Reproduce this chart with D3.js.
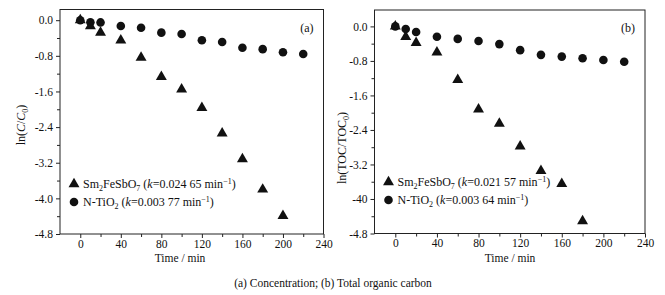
<!DOCTYPE html>
<html lang="en">
<head>
    <meta charset="UTF-8" />
    <title>ln(C/C0) and ln(TOC/TOC0) vs time</title>
    <script src="https://d3js.org/d3.v7.min.js"></script>
    <style>
        body {
            margin: 0;
            background: #fff;
        }
        svg text {
            fill: #111;
            font-weight: normal;
            font-family: 'Liberation Serif', 'DejaVu Serif', serif;
        }
        .axis path, .axis line {
            stroke: #222;
        }
    </style>
</head>
<body>
    <script>
        // time axis (min)
        const timesTri = [0, 10, 20, 40, 60, 80, 100, 120, 140, 160, 180, 200];
        const timesCirc = [0, 10, 20, 40, 60, 80, 100, 120, 140, 160, 180, 200, 220];
        const timesTriB = [0, 10, 20, 40, 60, 80, 100, 120, 140, 160, 180];

        // panel (a): ln(C/C0)
        const smFeSbO7_a = [0, -0.13, -0.28, -0.45, -0.84, -1.27, -1.55, -1.97, -2.54, -3.12, -3.80, -4.39];
        const nTiO2_a = [0, -0.045, -0.05, -0.13, -0.17, -0.28, -0.31, -0.45, -0.49, -0.62, -0.65, -0.72, -0.76];

        // panel (b): ln(TOC/TOC0)
        const smFeSbO7_b = [0, -0.24, -0.38, -0.60, -1.24, -1.92, -2.25, -2.78, -3.35, -3.65, -4.51];
        const nTiO2_b = [0, -0.06, -0.13, -0.24, -0.29, -0.34, -0.41, -0.55, -0.66, -0.70, -0.74, -0.78, -0.82];

        const xTicks = [0, 40, 80, 120, 160, 200, 240];
        const yTicks = [0, -0.8, -1.6, -2.4, -3.2, -4.0, -4.8];
        const yTickLabelsA = ['0.0', '-0.8', '-1.6', '-2.4', '-3.2', '-4.0', '-4.8'];
        const yTickLabelsB = ['0.0', '-0.8', '-1.6', '-2.4', '-3.2', '-40', '-4.8'];

        const kA = ['0.024 65', '0.003 77'];
        const kB = ['0.021 57', '0.003 64'];

        const width = 665, height = 295;
        const svg = d3.select('body').append('svg').attr('width', width).attr('height', height);

        function drawPanel(cfg) {
            const x = d3.scaleLinear().domain([-20, 240]).range([cfg.left, cfg.right]);
            const y = d3.scaleLinear().domain([-4.8, cfg.yTop]).range([cfg.bottom, cfg.top]);
            const g = svg.append('g');

            // frame
            g.append('rect')
                .attr('x', cfg.left).attr('y', cfg.top)
                .attr('width', cfg.right - cfg.left).attr('height', cfg.bottom - cfg.top)
                .attr('fill', 'none').attr('stroke', '#222').attr('stroke-width', 1);

            // x axis: major + minor ticks
            const xAxis = g.append('g').attr('class', 'axis')
                .attr('transform', `translate(0,${cfg.bottom})`)
                .call(d3.axisBottom(x).tickValues(xTicks).tickSize(4).tickPadding(1.5).tickFormat(d3.format('d')));
            xAxis.select('.domain').remove();
            xAxis.selectAll('text').attr('font-size', 11.5);
            g.append('g').attr('class', 'axis')
                .attr('transform', `translate(0,${cfg.bottom})`)
                .call(d3.axisBottom(x).tickValues([20, 60, 100, 140, 180, 220]).tickSize(3).tickFormat(''))
                .select('.domain').remove();

            // y axis
            const yAxis = g.append('g').attr('class', 'axis')
                .attr('transform', `translate(${cfg.left},0)`)
                .call(d3.axisLeft(y).tickValues(yTicks).tickSize(4).tickPadding(3)
                    .tickFormat((d, i) => cfg.yLabels[i]));
            yAxis.select('.domain').remove();
            yAxis.selectAll('text').attr('font-size', 11.5);
            g.append('g').attr('class', 'axis')
                .attr('transform', `translate(${cfg.left},0)`)
                .call(d3.axisLeft(y).tickValues([-0.4, -1.2, -2.0, -2.8, -3.6, -4.4]).tickSize(3).tickFormat(''))
                .select('.domain').remove();

            // axis titles
            g.append('text')
                .attr('x', cfg.xTitleX).attr('y', cfg.bottom + 28)
                .attr('text-anchor', 'middle').attr('font-size', 11.5)
                .text('Time / min');

            const yt = g.append('text')
                .attr('transform', `translate(${cfg.yTitleX},${cfg.yTitleY}) rotate(-90)`)
                .attr('text-anchor', 'middle').attr('font-size', 12);
            cfg.yTitle(yt);

            // panel tag
            g.append('text')
                .attr('x', cfg.right - 10).attr('y', cfg.top + 22)
                .attr('text-anchor', 'end').attr('font-size', 12)
                .text(cfg.tag);

            // markers
            const tri = d3.symbol().type(d3.symbolTriangle).size(52);
            g.selectAll('circle.pt')
                .data(cfg.circVals.map((v, i) => [cfg.circT[i], v]))
                .join('circle')
                .attr('class', 'pt')
                .attr('cx', d => x(d[0])).attr('cy', d => y(d[1]))
                .attr('r', 4.3).attr('fill', '#111');
            g.selectAll('path.tri')
                .data(cfg.triVals.map((v, i) => [cfg.triT[i], v]))
                .join('path')
                .attr('class', 'tri')
                .attr('d', tri)
                .attr('transform', d => `translate(${x(d[0])},${y(d[1])})`)
                .attr('fill', '#111');

            // legend
            const lx = cfg.left + 14, ly = cfg.legendY;
            g.append('path').attr('d', tri).attr('fill', '#111')
                .attr('transform', `translate(${lx},${ly})`);
            g.append('circle').attr('cx', lx).attr('cy', ly + 18).attr('r', 4.3).attr('fill', '#111');

            const t1 = g.append('text').attr('x', lx + 9).attr('y', ly + 4).attr('font-size', 12);
            t1.append('tspan').text('Sm');
            t1.append('tspan').attr('font-size', 8).attr('dy', 3).text('2');
            t1.append('tspan').attr('dy', -3).text('FeSbO');
            t1.append('tspan').attr('font-size', 8).attr('dy', 3).text('7');
            t1.append('tspan').attr('dy', -3).text(' (');
            t1.append('tspan').attr('font-style', 'italic').text('k');
            t1.append('tspan').text(`=${cfg.k[0]} min`);
            t1.append('tspan').attr('font-size', 8).attr('dy', -4).text('−1');
            t1.append('tspan').attr('dy', 4).text(')');

            const t2 = g.append('text').attr('x', lx + 9).attr('y', ly + 22).attr('font-size', 12);
            t2.append('tspan').text('N-TiO');
            t2.append('tspan').attr('font-size', 8).attr('dy', 3).text('2');
            t2.append('tspan').attr('dy', -3).text(' (');
            t2.append('tspan').attr('font-style', 'italic').text('k');
            t2.append('tspan').text(`=${cfg.k[1]} min`);
            t2.append('tspan').attr('font-size', 8).attr('dy', -4).text('−1');
            t2.append('tspan').attr('dy', 4).text(')');
        }

        drawPanel({
            left: 60, right: 323.5, top: 9.5, bottom: 234, yTop: 0.24,
            yLabels: yTickLabelsA, tag: '(a)', k: kA,
            triT: timesTri, triVals: smFeSbO7_a, circT: timesCirc, circVals: nTiO2_a,
            xTitleX: 180, yTitleX: 25, yTitleY: 125, legendY: 184,
            yTitle: t => {
                t.append('tspan').text('ln(');
                t.append('tspan').attr('font-style', 'italic').text('C');
                t.append('tspan').text('/');
                t.append('tspan').attr('font-style', 'italic').text('C');
                t.append('tspan').attr('font-size', 8).attr('dy', 3).text('0');
                t.append('tspan').attr('dy', -3).text(')');
            }
        });

        drawPanel({
            left: 374.5, right: 645, top: 10, bottom: 233.5, yTop: 0.38,
            yLabels: yTickLabelsB, tag: '(b)', k: kB,
            triT: timesTriB, triVals: smFeSbO7_b, circT: timesCirc, circVals: nTiO2_b,
            xTitleX: 510, yTitleX: 346, yTitleY: 148, legendY: 182,
            yTitle: t => {
                t.append('tspan').text('ln(TOC/TOC');
                t.append('tspan').attr('font-size', 8).attr('dy', 3).text('0');
                t.append('tspan').attr('dy', -3).text(')');
            }
        });

        // caption
        svg.append('text')
            .attr('x', 333).attr('y', 287)
            .attr('text-anchor', 'middle').attr('font-size', 11.5)
            .text('(a) Concentration; (b) Total organic carbon');
    </script>
</body>
</html>
